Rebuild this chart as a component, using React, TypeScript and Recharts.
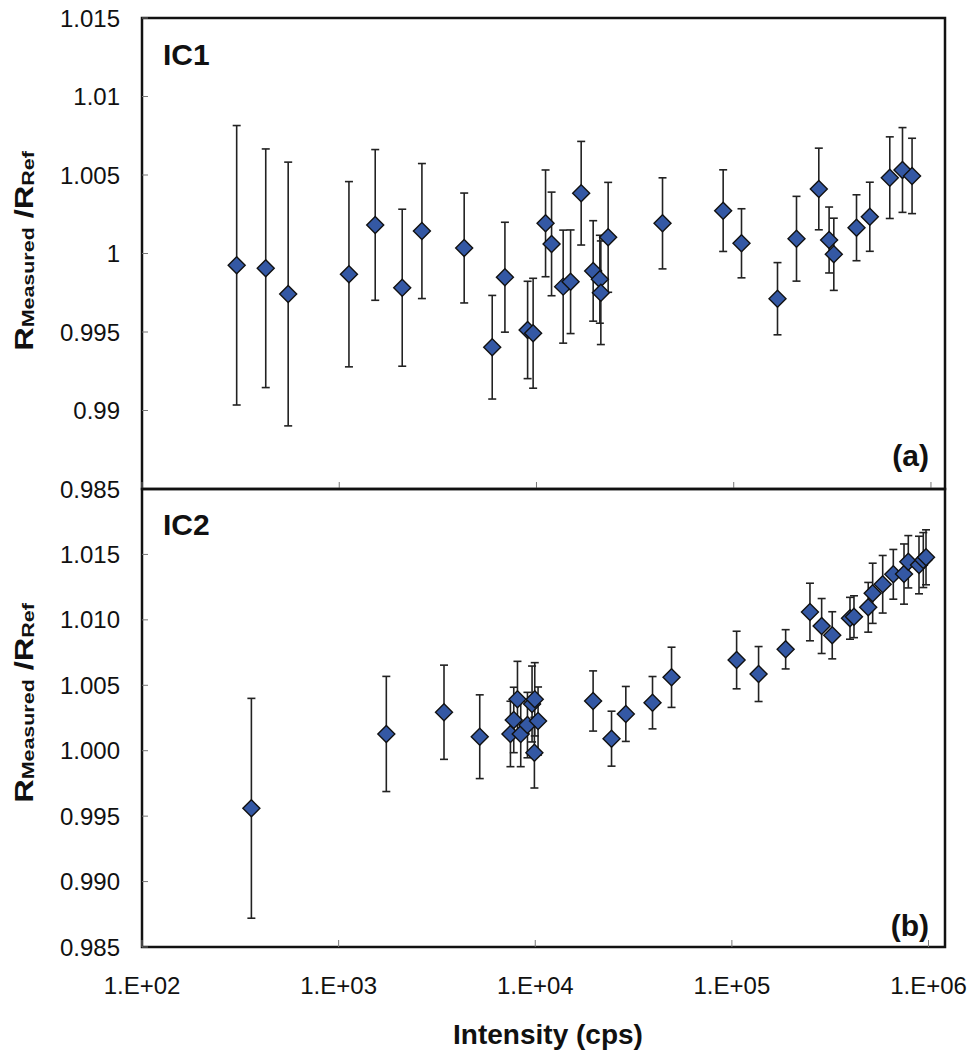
import React from 'react';
import { ScatterChart, Scatter, XAxis, YAxis, ErrorBar, ReferenceArea } from 'recharts';

// IC1 (panel a)
const ic1Intensity = [302, 424, 551, 1120, 1522, 2086, 2625, 4300, 5965, 6918, 9016, 9616, 11117, 11925, 13656, 14890, 16850, 19385, 20953, 21200, 23087, 43550, 88400, 109500, 166700, 208100, 270000, 304500, 321700, 419300, 489700, 618300, 717200, 802000];
const ic1Ratio = [0.99925, 0.99906, 0.99742, 0.99868, 1.00182, 0.99782, 1.00143, 1.00035, 0.99403, 0.99849, 0.99513, 0.99492, 1.00192, 1.00061, 0.99789, 0.9982, 1.00384, 0.99889, 0.99836, 0.9975, 1.00103, 1.00192, 1.00273, 1.00065, 0.99712, 1.00094, 1.00411, 1.00086, 0.99995, 1.00164, 1.00234, 1.00483, 1.00532, 1.00494];
const ic1Err = [0.0089, 0.0076, 0.0084, 0.0059, 0.0048, 0.005, 0.0043, 0.0035, 0.0033, 0.0035, 0.0031, 0.0035, 0.0034, 0.0033, 0.0036, 0.0033, 0.0033, 0.0032, 0.0028, 0.0033, 0.0035, 0.0029, 0.0026, 0.0022, 0.0023, 0.0027, 0.0026, 0.0021, 0.0023, 0.0021, 0.0022, 0.0026, 0.0027, 0.0024];

// IC2 (panel b)
const ic2Intensity = [360, 1748, 3435, 5220, 7478, 7774, 8120, 8436, 9127, 9632, 9943, 10333, 9900, 19690, 24430, 28880, 39480, 49330, 105700, 136700, 187700, 249500, 286100, 323900, 398700, 417800, 493700, 520000, 584800, 662200, 750600, 789300, 894600, 940800, 971200];
const ic2Ratio = [0.9956, 1.00128, 1.00294, 1.00107, 1.00128, 1.00235, 1.00393, 1.00128, 1.00196, 1.00357, 1.00393, 1.00227, 0.99985, 1.0038, 1.00092, 1.00281, 1.00367, 1.00561, 1.00693, 1.00586, 1.00775, 1.0106, 1.00953, 1.00882, 1.01012, 1.01024, 1.01096, 1.01203, 1.01272, 1.01348, 1.0135, 1.01444, 1.01419, 1.01457, 1.01478];
const ic2Err = [0.0084, 0.0044, 0.0036, 0.0032, 0.0025, 0.0025, 0.0029, 0.0025, 0.0025, 0.0029, 0.0028, 0.0026, 0.0027, 0.0023, 0.0021, 0.0021, 0.002, 0.0023, 0.0022, 0.0021, 0.0015, 0.0022, 0.0021, 0.0018, 0.0016, 0.0016, 0.0019, 0.0023, 0.0022, 0.0019, 0.0023, 0.002, 0.0022, 0.0021, 0.0021];

const xTicks = [100, 1000, 10000, 100000, 1000000];
const xTickLabels = ['1.E+02', '1.E+03', '1.E+04', '1.E+05', '1.E+06'];
const yTicks = [0.985, 0.99, 0.995, 1, 1.005, 1.01, 1.015];

const rows = (xs: number[], ys: number[], es: number[]) =>
  xs.map((x, i) => ({ x, y: ys[i], err: es[i] }));

const ic1Data = rows(ic1Intensity, ic1Ratio, ic1Err);
const ic2Data = rows(ic2Intensity, ic2Ratio, ic2Err);

const FONT = "'Liberation Sans', Arial, Helvetica, sans-serif";
const tickStyle = { fontSize: 24, fill: '#111', fontFamily: FONT };

const Diamond = (props: any) => {
  const { cx, cy } = props;
  if (cx == null || cy == null) return <g />;
  const r = 8.5;
  return (
    <polygon
      points={`${cx},${cy - r} ${cx + r},${cy} ${cx},${cy + r} ${cx - r},${cy}`}
      fill="#3458a4"
      stroke="#111"
      strokeWidth={1.4}
    />
  );
};

const YTitle = ({ x, y }: { x: number; y: number }) => (
  <text
    transform={`translate(${x},${y}) rotate(-90) scale(1.3,1)`}
    textAnchor="middle"
    fontFamily={FONT}
    fontWeight="bold"
    fill="#111"
  >
    <tspan fontSize={25}>R</tspan>
    <tspan fontSize={16.5} dy={1}>Measured</tspan>
    <tspan fontSize={25} dy={-1}> /R</tspan>
    <tspan fontSize={16.5} dy={1}>Ref</tspan>
  </text>
);

const PLOT_LEFT = 142;
const PLOT_RIGHT = 945;

export default function App() {
  return (
    <div style={{ position: 'absolute', left: 0, top: 0, width: 973, height: 1057, background: '#fff' }}>
      {/* panel (a) */}
      <div style={{ position: 'absolute', left: 0, top: 0 }}>
        <ScatterChart
          width={973}
          height={515}
          margin={{ top: 18, right: 973 - PLOT_RIGHT, bottom: 0, left: PLOT_LEFT - 80 }}
        >
          <XAxis
            type="number"
            dataKey="x"
            scale="log"
            domain={[100, 1178000]}
            ticks={xTicks}
            interval={0}
            allowDataOverflow
            height={26}
            axisLine={false}
            tickLine={{ stroke: '#777' }}
            tickSize={-7}
            tickFormatter={() => ''}
          />
          <YAxis
            type="number"
            dataKey="y"
            domain={[0.985, 1.015]}
            ticks={yTicks}
            interval={0}
            allowDataOverflow
            width={80}
            axisLine={false}
            tickLine={{ stroke: '#777' }}
            tickSize={-6}
            tickMargin={28}
            tick={tickStyle}
            tickFormatter={(v: number) => String(Number(v.toFixed(3)))}
          />
          <ReferenceArea
            x1={100}
            x2={1178000}
            y1={0.985}
            y2={1.015}
            fill="none"
            stroke="#111"
            strokeWidth={2.5}
            ifOverflow="visible"
          />
          <Scatter data={ic1Data} shape={<Diamond />} isAnimationActive={false}>
            <ErrorBar dataKey="err" direction="y" width={4} stroke="#222" strokeWidth={1.6} isAnimationActive={false} />
          </Scatter>
        </ScatterChart>
      </div>

      {/* panel (b) */}
      <div style={{ position: 'absolute', left: 0, top: 479 }}>
        <ScatterChart
          width={973}
          height={578}
          margin={{ top: 10, right: 973 - PLOT_RIGHT, bottom: 50, left: PLOT_LEFT - 80 }}
        >
          <XAxis
            type="number"
            dataKey="x"
            scale="log"
            domain={[100, 1213000]}
            ticks={xTicks}
            interval={0}
            allowDataOverflow
            height={60}
            axisLine={false}
            tickLine={{ stroke: '#777' }}
            tickSize={-7}
            tickMargin={37}
            tick={tickStyle}
            tickFormatter={(v: number) => xTickLabels[xTicks.indexOf(v)] ?? ''}
          />
          <YAxis
            type="number"
            dataKey="y"
            domain={[0.985, 1.02]}
            ticks={yTicks}
            interval={0}
            allowDataOverflow
            width={80}
            axisLine={false}
            tickLine={{ stroke: '#777' }}
            tickSize={-6}
            tickMargin={28}
            tick={tickStyle}
            tickFormatter={(v: number) => v.toFixed(3)}
          />
          <ReferenceArea
            x1={100}
            x2={1213000}
            y1={0.985}
            y2={1.02}
            fill="none"
            stroke="#111"
            strokeWidth={2.5}
            ifOverflow="visible"
          />
          <Scatter data={ic2Data} shape={<Diamond />} isAnimationActive={false}>
            <ErrorBar dataKey="err" direction="y" width={4} stroke="#222" strokeWidth={1.6} isAnimationActive={false} />
          </Scatter>
        </ScatterChart>
      </div>

      {/* titles and panel labels */}
      <svg
        width={973}
        height={1057}
        style={{ position: 'absolute', left: 0, top: 0, pointerEvents: 'none' }}
      >
        <text x={163} y={65} fontSize={30} fontWeight="bold" fontFamily={FONT} fill="#111">IC1</text>
        <text x={929} y={466} fontSize={30} fontWeight="bold" fontFamily={FONT} fill="#111" textAnchor="end">(a)</text>
        <text x={163} y={535} fontSize={30} fontWeight="bold" fontFamily={FONT} fill="#111">IC2</text>
        <text x={929} y={936} fontSize={30} fontWeight="bold" fontFamily={FONT} fill="#111" textAnchor="end">(b)</text>
        <YTitle x={33} y={251} />
        <YTitle x={33} y={703} />
        <text x={548} y={1044} fontSize={28} fontWeight="bold" fontFamily={FONT} fill="#111" textAnchor="middle">
          Intensity (cps)
        </text>
      </svg>
    </div>
  );
}
